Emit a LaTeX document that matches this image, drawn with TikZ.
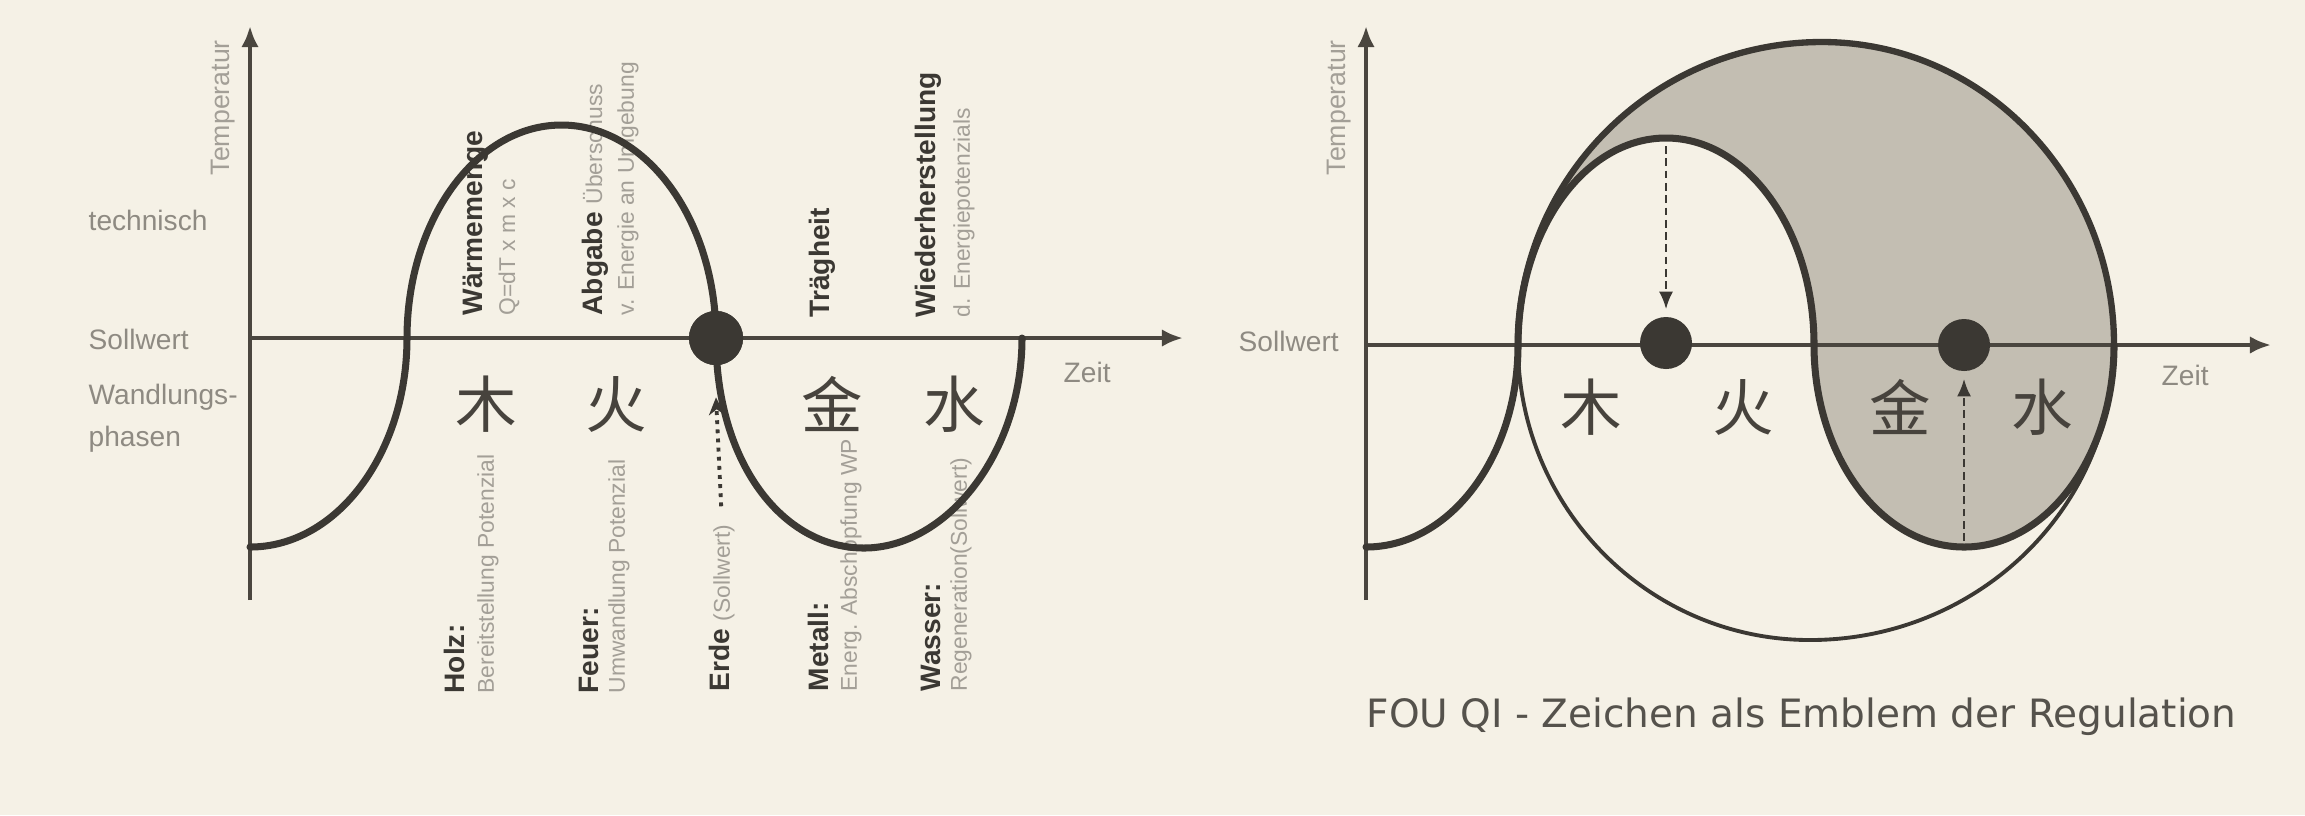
\documentclass[tikz,border=0pt]{standalone}
\usepackage{fontspec}
\setmainfont{Liberation Sans}
\newfontfamily\cjk{Noto Sans CJK SC}
\newfontfamily\capfont{DejaVu Sans}
\usetikzlibrary{arrows.meta}
\definecolor{bg}{HTML}{F5F1E6}
\definecolor{ink}{HTML}{3B3833}
\definecolor{axisc}{HTML}{4A463F}
\definecolor{midgray}{HTML}{8E8A82}
\definecolor{lightgray}{HTML}{A39F97}
\definecolor{shadec}{HTML}{C3BEB2}
\definecolor{hanzic}{HTML}{47433D}
\definecolor{capc}{HTML}{55524C}
\begin{document}
\begin{tikzpicture}[x=0.1mm,y=-0.1mm,
  axis/.style={draw=axisc,line width=1.2pt,-{Latex[length=6pt,width=5pt]}},
  wave/.style={draw=ink,line width=2pt,line cap=round},
  sidelbl/.style={text=midgray,font=\fontsize{8}{9}\selectfont,inner sep=0pt,anchor=base west,align=left},
  templbl/.style={text=lightgray,font=\fontsize{7.6}{9}\selectfont,inner sep=0pt,rotate=90,anchor=west},
  vbold/.style={rotate=90,anchor=west,inner sep=0pt,text=ink,font=\fontsize{8}{9}\selectfont\bfseries},
  vlight/.style={rotate=90,anchor=west,inner sep=0pt,text=lightgray,font=\fontsize{6.5}{7.5}\selectfont},
  hanzi/.style={text=hanzic,font=\cjk\fontsize{17.5}{19}\selectfont,inner sep=0pt},
  bigdot/.style={circle,fill=ink,minimum size=15.4pt,inner sep=0pt},
  smdot/.style={circle,fill=ink,minimum size=14.8pt,inner sep=0pt},
  dashedarrow/.style={draw=ink,line width=0.75pt,dash pattern=on 2.2pt off 1.3pt,-{Latex[length=5pt,width=4pt]}},
  dottedarrow/.style={draw=ink,line width=1.1pt,dash pattern=on 1.1pt off 1.5pt,-{Stealth[length=5pt,width=4.5pt]}},
]
\useasboundingbox (0,0) rectangle (2305,815);
\fill[bg] (0,0) rectangle (2305,815);

% ================= LEFT DIAGRAM =================
\coordinate (lo) at (250,338);
\coordinate (ltop) at (250,26);
\coordinate (lbot) at (250,600);
\coordinate (lend) at (1183,338);
\draw[axis] (lbot) -- (ltop);
\draw[axis] (lo) -- (lend);

\node[templbl] (ltemp) at (223,176) {Temperatur};
\node[sidelbl] (ltech) at (88,230) {technisch};
\node[sidelbl] (lsoll) at (88,349) {Sollwert};
\node[sidelbl] (lwand) at (88,404) {Wandlungs-};
\node[sidelbl] (lphas) at (88,446) {phasen};
\node[sidelbl] (lzeit) at (1063,382) {Zeit};

% upper labels
\node[vbold]  (waerme) at (476,316) {Wärmemenge};
\node[vlight] (waerme2) at (509,316) {Q=dT x m x c};
\node[vbold]  (abgabe) at (595,316) {Abgabe \mdseries\color{lightgray}\fontsize{6.5}{7.5}\selectfont Überschuss};
\node[vlight] (abgabe2) at (628,316) {v. Energie an Umgebung};
\node[vbold]  (traeg) at (822,318) {Trägheit};
\node[vbold]  (wieder) at (928,318) {Wiederherstellung};
\node[vlight] (wieder2) at (964,318) {d. Energiepotenzials};

% lower labels
\node[vbold]  (holz) at (454,694) {Holz:};
\node[vlight] (holz2) at (488,694) {Bereitstellung Potenzial};
\node[vbold]  (feuer) at (589,694) {Feuer:};
\node[vlight] (feuer2) at (619,694) {Umwandlung Potenzial};
\node[vbold]  (erde) at (722,692) {Erde \mdseries\color{lightgray}\fontsize{6.5}{7.5}\selectfont(Sollwert)};
\node[vbold]  (metall) at (818,692) {Metall:};
\node[vlight] (metall2) at (851,692) {Energ. Abschöpfung WP};
\node[vbold]  (wasser) at (931,692) {Wasser:};
\node[vlight] (wasser2) at (961,692) {Regeneration(Sollwert)};

% chinese characters
\node[hanzi] (lmu)  at (486,404) {木};
\node[hanzi] (lhuo) at (616,404) {火};
\node[hanzi] (ljin) at (832,404) {金};
\node[hanzi] (lshui) at (954,404) {水};

% dot
\node[bigdot] (ld) at (716,338) {};

% dotted arrow from Erde to the dot
\draw[dottedarrow, shorten <=5pt] (erde.east) -- ([yshift=-9pt]ld.south);

% wave
\draw[wave] (250,547) .. controls (336.7,547) and (407,453.4) .. (407,338)
  .. controls (407,220.4) and (476.2,125) .. (561.5,125)
  .. controls (646.8,125) and (716,220.4) .. (716,338)
  .. controls (716,462) and (782,548) .. (864,548)
  .. controls (946,548) and (1022,454) .. (1022,338);
\node[bigdot] at (ld) {};

% ================= RIGHT DIAGRAM =================
\coordinate (ro) at (1366,345);
\coordinate (rtop) at (1366,26);
\coordinate (rbot) at (1366,600);
\coordinate (rend) at (2271,345);

% shaded region
\fill[fill=shadec] (1518,345) .. controls (1518,177.7) and (1654,42) .. (1822,42)
  .. controls (1983.3,42) and (2114,177.7) .. (2114,345)
  .. controls (2114,456.6) and (2046.8,547) .. (1964,547)
  .. controls (1881.2,547) and (1814,456.6) .. (1814,345)
  .. controls (1814,230.7) and (1747.7,138) .. (1666,138)
  .. controls (1584.3,138) and (1518,230.7) .. (1518,345) -- cycle;

\draw[axis] (rbot) -- (rtop);
\draw[axis] (ro) -- (rend);

\node[templbl] (rtemp) at (1339,176) {Temperatur};
\node[sidelbl] (rsoll) at (1238,351) {Sollwert};
\node[sidelbl] (rzeit) at (2161,385) {Zeit};

\node[hanzi] (rmu)  at (1591,407) {木};
\node[hanzi] (rhuo) at (1743,407) {火};
\node[hanzi] (rjin) at (1900,407) {金};
\node[hanzi] (rshui) at (2042,407) {水};

% outer circle: thin lower half, thick upper half
\draw[draw=ink,line width=1.1pt] (2114,345) .. controls (2114,508) and (1977.9,640) .. (1810,640)
  .. controls (1648.7,640) and (1518,508) .. (1518,345);
\draw[wave,line width=1.8pt] (1518,345) .. controls (1518,177.7) and (1654,42) .. (1822,42)
  .. controls (1983.3,42) and (2114,177.7) .. (2114,345);

% wave
\draw[wave] (1366,547) .. controls (1450,547) and (1518,456.6) .. (1518,345)
  .. controls (1518,230.7) and (1584.3,138) .. (1666,138)
  .. controls (1747.7,138) and (1814,230.7) .. (1814,345)
  .. controls (1814,456.6) and (1881.2,547) .. (1964,547)
  .. controls (2046.8,547) and (2114,456.6) .. (2114,345);

\node[smdot] (rd1) at (1666,343) {};
\node[smdot] (rd2) at (1964,345) {};
\coordinate (rpeak) at (1666,146);
\coordinate (rtrough) at (1964,541);
\draw[dashedarrow] (rpeak) -- ([yshift=2pt]rd1.north);
\draw[dashedarrow] (rtrough) -- ([yshift=-2pt]rd2.south);

\node[anchor=base west,inner sep=0pt,text=capc,font=\capfont\fontsize{11.1}{13}\selectfont] (caption) at (1366,727) {FOU QI - Zeichen als Emblem der Regulation};
\end{tikzpicture}
\end{document}
